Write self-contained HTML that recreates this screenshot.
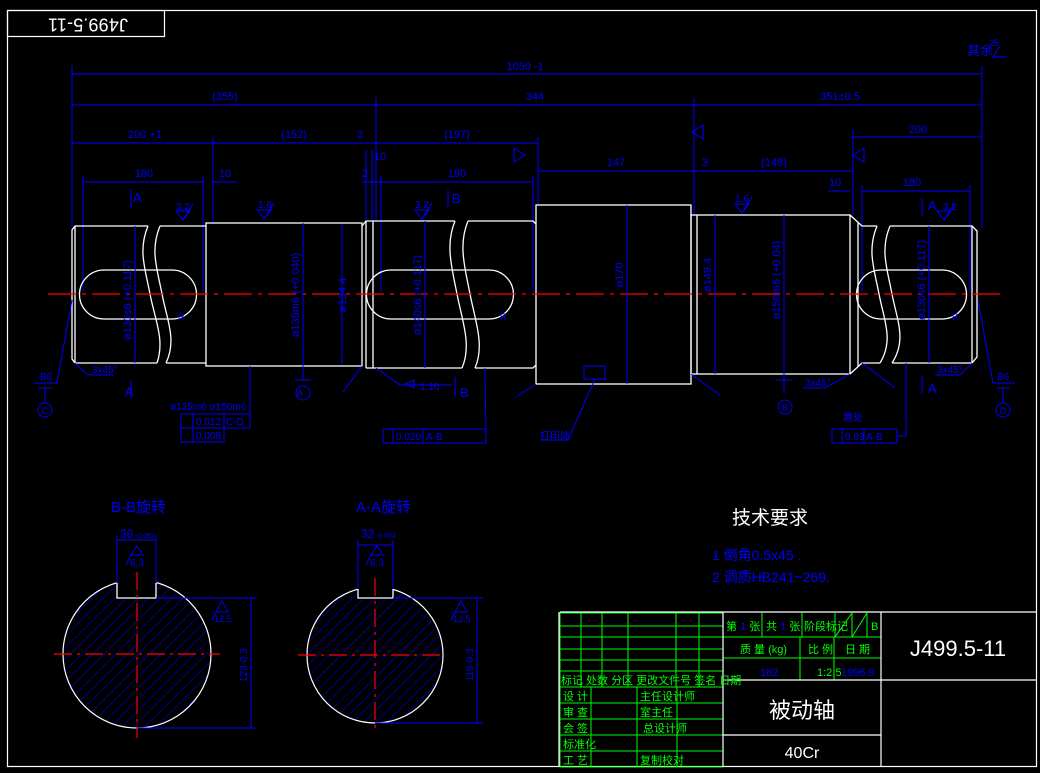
<!DOCTYPE html>
<html><head><meta charset="utf-8"><style>
html,body{margin:0;padding:0;background:#000;}
svg{display:block;}
text{font-family:"Liberation Sans","Noto Sans CJK SC",sans-serif;}
</style></head><body>
<svg width="1040" height="773" viewBox="0 0 1040 773" xmlns="http://www.w3.org/2000/svg">
<defs>
<pattern id="h" width="8" height="8" patternUnits="userSpaceOnUse" patternTransform="rotate(45)">
<line x1="0" y1="0" x2="0" y2="8" stroke="#0000ff" stroke-width="1"/>
</pattern>
</defs>
<rect width="1040" height="773" fill="#000"/>
<!-- border -->
<rect x="7.5" y="10.5" width="1029" height="756" fill="none" stroke="#fff" stroke-width="1.2"/>
<rect x="7.5" y="10.5" width="157" height="26" fill="none" stroke="#fff" stroke-width="1.2"/>
<text transform="translate(88,23) rotate(180)" text-anchor="middle" dominant-baseline="middle" fill="#fff" font-size="18" textLength="80">J499.5-11</text>

<!-- dimensions -->
<g stroke="#0000ff" stroke-width="1" fill="none">
<line x1="72" y1="74" x2="982" y2="74"/>
<line x1="72" y1="105" x2="982" y2="105"/>
<line x1="72" y1="143" x2="538" y2="143"/>
<line x1="853" y1="137" x2="982" y2="137"/>
<line x1="538" y1="171" x2="853" y2="171"/>
<line x1="83" y1="182" x2="203" y2="182"/>
<line x1="213" y1="182" x2="237" y2="182"/>
<line x1="362" y1="182" x2="533" y2="182"/>
<line x1="828" y1="191" x2="850" y2="191"/>
<line x1="862" y1="191" x2="970" y2="191"/>
<line x1="72" y1="66" x2="72" y2="228"/>
<line x1="982" y1="66" x2="982" y2="228"/>
<line x1="376" y1="98" x2="376" y2="222"/>
<line x1="694" y1="98" x2="694" y2="215"/>
<line x1="213" y1="137" x2="213" y2="222"/>
<line x1="538" y1="137" x2="538" y2="205"/>
<line x1="853" y1="130" x2="853" y2="215"/>
<line x1="83" y1="176" x2="83" y2="292"/>
<line x1="203" y1="176" x2="203" y2="292"/>
<line x1="533" y1="176" x2="533" y2="292"/>
<line x1="381" y1="176" x2="381" y2="292"/>
<line x1="970" y1="185" x2="970" y2="292"/>
<line x1="862" y1="185" x2="862" y2="292"/>
<line x1="366" y1="150" x2="366" y2="220"/>
<line x1="372" y1="150" x2="372" y2="220"/>
</g>
<g fill="#0000ff" font-size="11" text-anchor="middle">
<text x="525" y="70">1050 -1</text>
<text x="225" y="100">(355)</text>
<text x="535" y="100">344</text>
<text x="840" y="100">351±0.5</text>
<text x="145" y="138">200 +1</text>
<text x="294" y="138">(152)</text>
<text x="360" y="138">3</text>
<text x="457" y="138">(197)</text>
<text x="918" y="133">200</text>
<text x="616" y="166">147</text>
<text x="705" y="166">3</text>
<text x="774" y="166">(148)</text>
<text x="144" y="177">180</text>
<text x="225" y="177">10</text>
<text x="457" y="177">190</text>
<text x="365" y="177">2</text>
<text x="380" y="160">10</text>
<text x="835" y="186">10</text>
<text x="912" y="186">180</text>
<text x="980" y="55" font-size="13">其余</text>
<text x="994" y="46" font-size="9">25</text>
</g>

<!-- shaft -->
<g stroke="#fff" stroke-width="1.3" fill="none">
<path d="M75,226 L148,226 M160,226 L206,226 M75,363 L157,363 M166,363 L206,363"/>
<path d="M75,226 L72,230 L72,359 L75,363 M75,226 L75,363"/>
<path d="M148,226 C138,250 145,268 150,294 S165,340 157,363"/>
<path d="M160,226 C150,250 157,268 162,294 S177,340 166,363"/>
<rect x="206" y="223" width="156" height="143"/>
<path d="M362,226 L366,221 L455,221 M468,221 L533,221 L536,224 M366,368 L462,368 M475,368 L533,368 L536,365 M366,221 L366,368 M373,221 L373,368"/>
<path d="M455,221 C445,245 452,268 457,294 S472,345 462,368"/>
<path d="M468,221 C458,245 465,268 470,294 S485,345 475,368"/>
<rect x="536" y="205" width="155" height="179"/>
<rect x="691" y="215" width="159" height="159"/>
<line x1="697" y1="215" x2="697" y2="374"/>
<path d="M850,215 L862,226 L877,226 M890,226 L972,226 L977,231 L977,357 L972,363 L892,363 M880,363 L862,363 L850,374 M858,222 L858,367 M972,226 L972,363"/>
<path d="M877,226 C867,250 874,268 879,294 S894,340 880,363"/>
<path d="M890,226 C880,250 887,268 892,294 S907,340 892,363"/>
<path d="M104,270 L172,270 A24.5,24.5 0 0 1 172,319 L104,319 A24.5,24.5 0 0 1 104,270 Z"/>
<path d="M391,270 L489,270 A24.5,24.5 0 0 1 489,319 L391,319 A24.5,24.5 0 0 1 391,270 Z"/>
<path d="M881,270 L942,270 A24.5,24.5 0 0 1 942,319 L881,319 A24.5,24.5 0 0 1 881,270 Z"/>
</g>
<line x1="48" y1="294" x2="1003" y2="294" stroke="#ff0000" stroke-width="1.3" stroke-dasharray="28,6,4,6"/>

<!-- diameter dims -->
<g stroke="#0000ff" stroke-width="1" fill="none">
<line x1="135" y1="226" x2="135" y2="363"/>
<line x1="303" y1="223" x2="303" y2="366"/>
<line x1="342" y1="224" x2="342" y2="365"/>
<line x1="425" y1="221" x2="425" y2="368"/>
<line x1="627" y1="205" x2="627" y2="384"/>
<line x1="715" y1="215" x2="715" y2="374"/>
<line x1="784" y1="215" x2="784" y2="374"/>
<line x1="929" y1="226" x2="929" y2="363"/>
<line x1="303" y1="366" x2="303" y2="380"/><line x1="295" y1="380" x2="311" y2="380"/>
<circle cx="303" cy="393" r="7"/>
<line x1="784" y1="374" x2="784" y2="393"/><line x1="776" y1="380" x2="792" y2="380"/>
<circle cx="785" cy="407" r="7"/>
<path d="M72,300 L57,383 L34,383 M38,388 L52,388 M45,388 L45,403"/>
<circle cx="45" cy="410" r="7"/>
<path d="M978,300 L993,383 L1015,383 M997,388 L1010,388 M1003,388 L1003,403"/>
<circle cx="1003" cy="410" r="7"/>
<path d="M75,363 L88,375 L114,375"/>
<path d="M250,366 L250,420"/>
<rect x="181" y="414" width="69" height="14"/><line x1="193" y1="414" x2="193" y2="442"/><line x1="224" y1="414" x2="224" y2="428"/>
<rect x="181" y="428" width="43" height="14"/>
<rect x="383" y="429" width="103" height="14"/><line x1="393" y1="429" x2="393" y2="443"/><line x1="423" y1="429" x2="423" y2="443"/>
<path d="M486,436 L485,368"/>
<rect x="832" y="429" width="65" height="14"/><line x1="842" y1="429" x2="842" y2="443"/><line x1="864" y1="429" x2="864" y2="443"/>
<path d="M897,436 L906,436 L906,363"/>
<rect x="584" y="366" width="21" height="13"/>
<path d="M595,379 L568,440 L540,440"/>
<path d="M362,366 L343,392 M536,384 L516,397 M691,374 L720,395 M862,363 L895,388 M850,374 L825,388 L803,388 M972,363 L960,375 L935,375 M376,368 L400,385 L452,385"/>
<line x1="131" y1="190" x2="131" y2="207"/><line x1="131" y1="381" x2="131" y2="398"/>
<line x1="448" y1="190" x2="448" y2="207"/><line x1="455" y1="377" x2="455" y2="396"/>
<line x1="922" y1="198" x2="922" y2="215"/><line x1="922" y1="375" x2="922" y2="394"/>
<path d="M176,211 L183,220 L190,211 Z M183,220 L193,204"/>
<path d="M257,210 L264,219 L271,210 Z M264,219 L274,203"/>
<path d="M415,210 L422,219 L429,210 Z M422,219 L432,203"/>
<path d="M735,204 L742,213 L749,204 Z M742,213 L752,197"/>
<path d="M937,211 L944,220 L951,211 Z M944,220 L954,204"/>
<path d="M1000,46 L993,57 L1007,57" />
<path d="M514,148 L525,155 L514,162 Z"/>
<path d="M703,125 L692,132 L703,139 Z"/>
<path d="M864,148 L853,155 L864,162 Z"/>
<path d="M405,384 L414,380 L414,388 Z"/>
</g>
<g fill="#0000ff" font-size="11">
<text transform="translate(131,300) rotate(-90)" text-anchor="middle">ø130s6 (+0.117)</text>
<text transform="translate(299,295) rotate(-90)" text-anchor="middle">ø135m6 (+0.040)</text>
<text transform="translate(346,295) rotate(-90)" text-anchor="middle">ø134.4</text>
<text transform="translate(421,295) rotate(-90)" text-anchor="middle">ø140s6 (+0.117)</text>
<text transform="translate(623,275) rotate(-90)" text-anchor="middle">ø170</text>
<text transform="translate(711,275) rotate(-90)" text-anchor="middle">ø149.4</text>
<text transform="translate(780,280) rotate(-90)" text-anchor="middle">ø150m6 (+0.04)</text>
<text transform="translate(925,280) rotate(-90)" text-anchor="middle">ø130s6 (+0.117)</text>
<text x="133" y="202" font-size="13">A</text><text x="125" y="396" font-size="13">A</text>
<text x="452" y="203" font-size="13">B</text><text x="460" y="397" font-size="13">B</text>
<text x="928" y="210" font-size="13">A</text><text x="928" y="393" font-size="13">A</text>
<text x="176" y="210" font-size="10">3.2</text><text x="258" y="208" font-size="10">1.6</text>
<text x="415" y="208" font-size="10">3.2</text><text x="735" y="202" font-size="10">1.6</text>
<text x="943" y="210" font-size="10">3.2</text>
<text x="40" y="380" font-size="10">B6</text><text x="997" y="380" font-size="10">B6</text>
<text x="92" y="373" font-size="10">3x45°</text><text x="805" y="386" font-size="10">3x45°</text><text x="937" y="373" font-size="10">3x45°</text>
<text x="420" y="390" font-size="10">1:10</text>
<text x="170" y="410" font-size="10">ø135m6 ø150m6</text>
<text x="196" y="425" font-size="10">0.012</text><text x="226" y="425" font-size="10">C-D</text>
<text x="196" y="439" font-size="10">0.008</text>
<text x="396" y="440" font-size="10">0.020</text><text x="426" y="440" font-size="10">A-B</text>
<text x="845" y="440" font-size="10">0.03</text><text x="866" y="440" font-size="10">A-B</text>
<text x="843" y="421" font-size="10">两处</text>
<text x="540" y="439" font-size="10">打印处</text>
<text x="300" y="396" font-size="9" text-anchor="middle">A</text>
<text x="785" y="411" font-size="9" text-anchor="middle">B</text>
<text x="45" y="414" font-size="9" text-anchor="middle">C</text>
<text x="1003" y="414" font-size="9" text-anchor="middle">D</text>
<text x="178" y="320" font-size="9">R</text><text x="500" y="320" font-size="9">R</text><text x="952" y="320" font-size="9">R</text>
</g>

<!-- sections -->
<circle cx="137" cy="654" r="74" fill="url(#h)" stroke="#fff" stroke-width="1.2"/>
<rect x="117" y="570" width="39" height="28" fill="#000"/>
<path d="M117,583 L117,598 L156,598 L156,583" fill="none" stroke="#fff" stroke-width="1.3"/>
<circle cx="375" cy="655" r="68" fill="url(#h)" stroke="#fff" stroke-width="1.2"/>
<rect x="358" y="575" width="35" height="23" fill="#000"/>
<path d="M358,589 L358,598 L393,598 L393,589" fill="none" stroke="#fff" stroke-width="1.3"/>
<g stroke="#ff0000" stroke-width="1.2" stroke-dasharray="18,5,3,5" fill="none">
<line x1="54" y1="654" x2="220" y2="654"/><line x1="137" y1="572" x2="137" y2="738"/>
<line x1="298" y1="655" x2="443" y2="655"/><line x1="375" y1="578" x2="375" y2="733"/>
</g>
<g stroke="#0000ff" stroke-width="1" fill="none">
<line x1="117" y1="540" x2="156" y2="540"/><line x1="117" y1="535" x2="117" y2="583"/><line x1="156" y1="535" x2="156" y2="583"/>
<line x1="358" y1="545" x2="393" y2="545"/><line x1="358" y1="540" x2="358" y2="589"/><line x1="393" y1="540" x2="393" y2="589"/>
<path d="M131,555 L137,546 L143,555 Z M126,565 L131,555"/>
<path d="M371,555 L377,546 L383,555 Z M366,565 L371,555"/>
<line x1="156" y1="598" x2="257" y2="598"/><line x1="137" y1="728" x2="257" y2="728"/><line x1="251" y1="598" x2="251" y2="728"/>
<line x1="393" y1="598" x2="483" y2="598"/><line x1="375" y1="723" x2="483" y2="723"/><line x1="477" y1="598" x2="477" y2="723"/>
<path d="M216,612 L222,601 L228,612 Z M212,620 L216,612"/>
<path d="M455,612 L461,601 L467,612 Z M451,620 L455,612"/>
</g>
<g fill="#0000ff">
<text x="111" y="512" font-size="15">B-B旋转</text>
<text x="356" y="512" font-size="15">A-A旋转</text>
<text x="120" y="538" font-size="12">36</text><text x="135" y="538" font-size="7">-0.062</text>
<text x="361" y="538" font-size="12">32</text><text x="376" y="538" font-size="7">-0.062</text>
<text x="130" y="566" font-size="10">6.3</text><text x="370" y="566" font-size="10">6.3</text>
<text x="214" y="622" font-size="9">12.5</text><text x="453" y="622" font-size="9">12.5</text>
<text transform="translate(247,665) rotate(-90)" font-size="10" text-anchor="middle">123-0.3</text>
<text transform="translate(473,665) rotate(-90)" font-size="10" text-anchor="middle">119-0.3</text>
</g>

<!-- tech requirements -->
<text x="732" y="524" fill="#fff" font-size="19" font-family="Liberation Sans,'Noto Sans CJK SC',sans-serif">技术要求</text>
<text x="712" y="560" fill="#0000ff" font-size="14">1  倒角0.5x45 .</text>
<text x="712" y="582" fill="#0000ff" font-size="14">2  调质HB241~269.</text>

<!-- title block -->
<g stroke="#00ff00" stroke-width="1" fill="none">
<rect x="560" y="613" width="163" height="154"/>
<path d="M560,626H723M560,637H723M560,649H723M560,660H723M560,671H723M560,687H723M560,703H723M560,719H723M560,735H723M560,751H723"/>
<path d="M581,613V687M602,613V687M628,613V687M676,613V687M699,613V687"/>
<path d="M591,687V767M637,687V767M677,687V767"/>
<path d="M723,637H881M723,658H881M762,613V637M802,613V637M835,613V637M852,613V637M867,613V637M800,637V680M834,637V680M835,637L852,613M852,637L867,613"/>
</g>
<g stroke="#fff" stroke-width="1.2" fill="none">
<line x1="560" y1="612" x2="1036" y2="612"/>
<line x1="723" y1="612" x2="723" y2="767"/>
<line x1="881" y1="612" x2="881" y2="767"/>
<line x1="723" y1="680" x2="1036" y2="680"/>
<line x1="723" y1="735" x2="881" y2="735"/>
<line x1="559" y1="612" x2="559" y2="767"/>
</g>
<g fill="#00ff00" font-size="11">
<text x="561" y="684">标记 处数 分区  更改文件号 签名 日期</text>
<text x="563" y="700">设 计</text><text x="640" y="700">主任设计师</text>
<text x="563" y="716">审 查</text><text x="640" y="716">室主任</text>
<text x="563" y="732">会 签</text><text x="643" y="732">总设计师</text>
<text x="563" y="748">标准化</text>
<text x="563" y="764">工 艺</text><text x="640" y="764">复制校对</text>
<text x="726" y="630">第 <tspan fill="#0000ff">1</tspan> 张</text>
<text x="766" y="630">共 <tspan fill="#0000ff">1</tspan> 张</text>
<text x="804" y="630">阶段标记</text>
<text x="871" y="630">B</text>
<text x="740" y="653">质 量 (kg)</text>
<text x="808" y="653">比 例</text>
<text x="845" y="653">日  期</text>
<text x="817" y="676">1:2.5</text>
</g>
<g fill="#0000ff" font-size="11">
<text x="760" y="676">182</text><text x="841" y="676">1996.9</text>
</g>
<text x="958" y="656" fill="#fff" font-size="22" text-anchor="middle">J499.5-11</text>
<text x="802" y="718" fill="#fff" font-size="22" text-anchor="middle">被动轴</text>
<text x="802" y="758" fill="#fff" font-size="16" text-anchor="middle">40Cr</text>
</svg>
</body></html>
